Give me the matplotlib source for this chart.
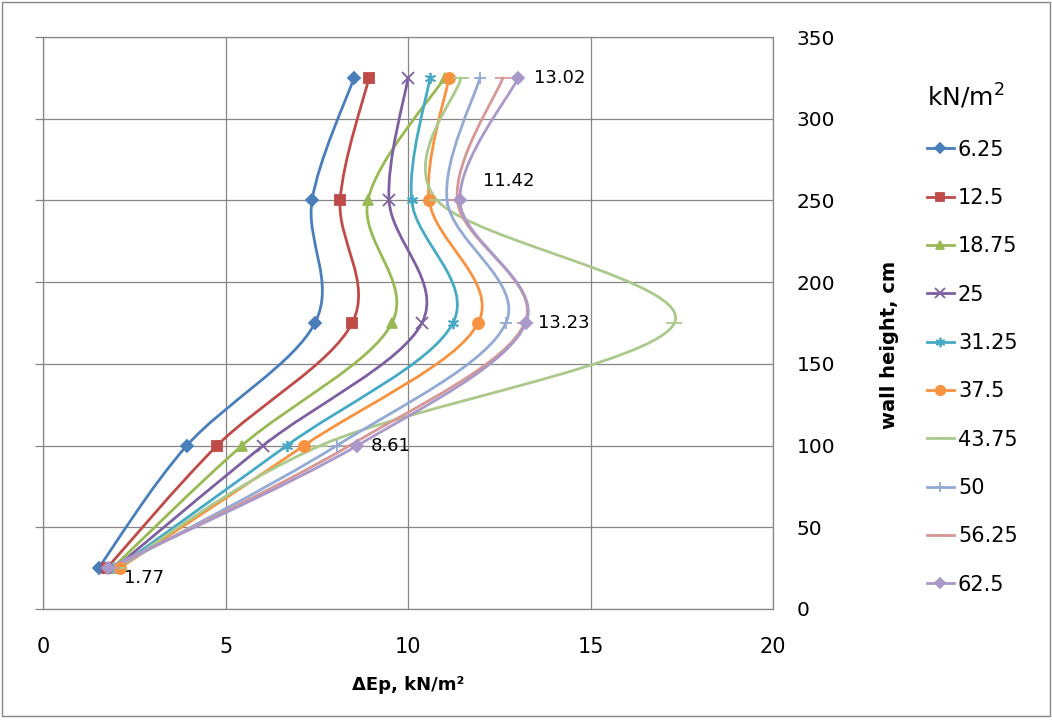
import matplotlib
matplotlib.use("Agg")
import matplotlib.pyplot as plt
from matplotlib.path import Path
from matplotlib.patches import PathPatch, Rectangle
from matplotlib.lines import Line2D

# wall height of each measuring point, cm
heights = [25, 100, 175, 250, 325]

# surcharge load of each series, kN/m2
loads = ["6.25", "12.5", "18.75", "25", "31.25", "37.5", "43.75", "50", "56.25", "62.5"]

# delta Ep at each height, kN/m2 (bottom to top)
dep_625 = [1.52, 3.94, 7.45, 7.37, 8.52]
dep_125 = [1.75, 4.77, 8.47, 8.14, 8.93]
dep_1875 = [1.90, 5.45, 9.56, 8.90, 11.00]
dep_25 = [1.97, 6.03, 10.38, 9.48, 10.00]
dep_3125 = [2.02, 6.68, 11.23, 10.10, 10.60]
dep_375 = [2.10, 7.15, 11.92, 10.58, 11.12]
dep_4375 = [2.05, 7.60, 17.30, 10.80, 11.45]
dep_50 = [1.95, 8.05, 12.68, 11.07, 11.97]
dep_5625 = [1.85, 8.40, 13.20, 11.35, 12.60]
dep_625b = [1.77, 8.61, 13.23, 11.42, 13.02]

series = [dep_625, dep_125, dep_1875, dep_25, dep_3125,
          dep_375, dep_4375, dep_50, dep_5625, dep_625b]

colors = ["#4A7EBB", "#BE4B48", "#98B954", "#7D60A0", "#46AAC5",
          "#F69240", "#ABC98C", "#93AAD4", "#D69896", "#A999C9"]
markers = ["D", "s", "^", "x", (6, 2, 0), "o", "_", "+", "_", "D"]
msizes = [6.5, 7, 7.5, 8, 8, 8, 11, 9, 11, 6.5]

# data labels shown for the last series: (dx, dy) offsets in points
label_offsets = [(12, -7), (10, 0), (9, 0), (17, 14), (11, 0)]


def smooth_path(xs, ys):
    # Excel-like smoothed line: cubic bezier through every point
    pts = list(zip(xs, ys))
    n = len(pts)
    verts = [pts[0]]
    codes = [Path.MOVETO]
    for i in range(n - 1):
        p0 = pts[max(i - 1, 0)]
        p1 = pts[i]
        p2 = pts[i + 1]
        p3 = pts[min(i + 2, n - 1)]
        c1 = (p1[0] + (p2[0] - p0[0]) / 6, p1[1] + (p2[1] - p0[1]) / 6)
        c2 = (p2[0] - (p3[0] - p1[0]) / 6, p2[1] - (p3[1] - p1[1]) / 6)
        verts += [c1, c2, p2]
        codes += [Path.CURVE4] * 3
    return Path(verts, codes)


fig = plt.figure(figsize=(10.52, 7.2), dpi=100)
ax = fig.add_axes([0.0409, 0.1542, 0.6939, 0.7944])

for vals, col, mk, ms, name in zip(series, colors, markers, msizes, loads):
    ax.add_patch(PathPatch(smooth_path(vals, heights), facecolor="none",
                           edgecolor=col, lw=2.0, zorder=3, capstyle="round"))
    ax.plot(vals, heights, ls="none", marker=mk, ms=ms, color=col,
            mec=col, mew=1.3, zorder=4)

for x, y, off in zip(dep_625b, heights, label_offsets):
    ax.annotate(f"{x:.2f}", (x, y), xytext=off, textcoords="offset points",
                ha="left", va="center", fontsize=13, family="DejaVu Sans")

ax.set_xlim(0, 20)
ax.set_ylim(0, 350)
ax.set_xticks(range(0, 21, 5))
ax.set_yticks(range(0, 351, 50))
ax.grid(True, color="#868686", lw=0.9)
ax.set_axisbelow(True)
for s in ax.spines.values():
    s.set_color("#868686")
    s.set_linewidth(0.9)

ax.tick_params(axis="x", length=0, pad=20, labelsize=15)
ax.tick_params(axis="y", left=True, right=False, labelleft=False,
               labelright=True, direction="out", length=6, width=0.9,
               color="#868686", pad=11, labelsize=14.5)

ax.set_xlabel("ΔEp, kN/m²", fontsize=13, fontweight="bold", labelpad=14)
ax.yaxis.set_label_position("right")
ax.set_ylabel("wall height, cm", fontsize=14, fontweight="bold")
ax.yaxis.set_label_coords(1.147, 0.462)

handles = [Line2D([], [], color=c, marker=m, ms=s * 0.85, lw=2.0, mew=1.3)
           for c, m, s in zip(colors, markers, msizes)]
leg = fig.legend(handles, loads, loc="upper left", bbox_to_anchor=(0.863, 0.912),
                 frameon=False, fontsize=15, title="kN/m$^2$", title_fontsize=18,
                 handlelength=1.3, handletextpad=0.2, labelspacing=1.36,
                 alignment="left")

fig.patches.append(Rectangle((0.002, 0.005), 0.996, 0.992, transform=fig.transFigure,
                             fill=False, edgecolor="#888888", lw=1.0))

fig.savefig("out.png", dpi=100)
